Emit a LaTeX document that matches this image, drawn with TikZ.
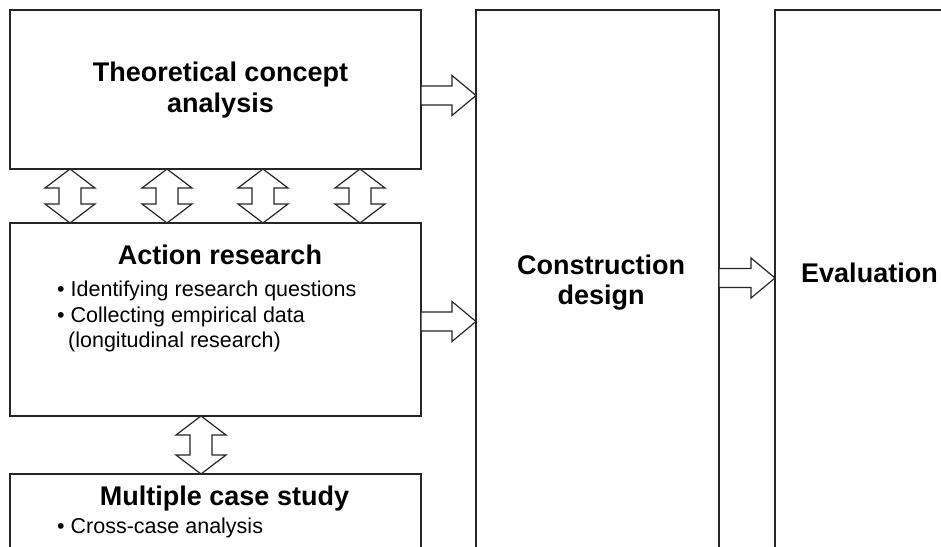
\documentclass[tikz,border=0pt]{standalone}
\usepackage{fontspec}
\setmainfont{Liberation Sans}
\usetikzlibrary{calc}

\tikzset{
  stage/.style={draw=black!85, line width=1.5pt, fill=white, rectangle,
    inner sep=0pt, outer sep=0pt, anchor=north west},
  hollow/.style={draw=black!85, line width=1.2pt, fill=white, line join=miter},
  title/.style={font=\fontsize{27}{32}\selectfont\bfseries, inner sep=0pt, anchor=base},
  item/.style={font=\fontsize{21.5}{25}\selectfont, inner sep=0pt, anchor=base west},
}

% hollow block arrow pointing right, from the east side of #1 to the west side of #2 at height #3
\newcommand\rightflow[3]{%
  \draw[hollow] let \p1=(#1.east), \p2=(#2.west) in
    (\x1,#3pt+9.5pt) -- (\x2-24pt,#3pt+9.5pt) -- (\x2-24pt,#3pt+20pt) -- (\x2,#3pt)
    -- (\x2-24pt,#3pt-20pt) -- (\x2-24pt,#3pt-9.5pt) -- (\x1,#3pt-9.5pt) -- cycle;}

% hollow two-headed vertical arrow between the south side of #1 and the north side of #2 at x = #3
\newcommand\updownflow[3]{%
  \draw[hollow] let \p1=(#1.south), \p2=(#2.north) in
    (#3pt,\y1) -- (#3pt+25pt,\y1-19pt) -- (#3pt+11pt,\y1-19pt) -- (#3pt+11pt,\y2+19pt)
    -- (#3pt+25pt,\y2+19pt) -- (#3pt,\y2) -- (#3pt-25pt,\y2+19pt) -- (#3pt-11pt,\y2+19pt)
    -- (#3pt-11pt,\y1-19pt) -- (#3pt-25pt,\y1-19pt) -- cycle;}

\begin{document}
\begin{tikzpicture}[x=1pt,y=1pt]
  \useasboundingbox (0,0) rectangle (941,546);
  \clip (0,0) rectangle (941,546);
  \fill[white] (0,0) rectangle (941,546);

  % stages
  \node[stage, minimum width=411pt, minimum height=159pt] (theory) at (10,536) {};
  \node[stage, minimum width=411pt, minimum height=193pt] (action) at (10,323) {};
  \node[stage, minimum width=411pt, minimum height=120pt] (multi)  at (10,72)  {};
  \node[stage, minimum width=243pt, minimum height=580pt] (constr) at (476,536) {};
  \node[stage, minimum width=250pt, minimum height=580pt] (eval)   at (775,536) {};

  % labels
  \node[title] (theoryA) at (220.5,464) {Theoretical concept};
  \node[title] (theoryB) at (220.5,433) {analysis};

  \node[title] (actionT) at (220,281) {Action research};
  \node[item]  (actionA) at (57,249) {\textbullet\ Identifying research questions};
  \node[item]  (actionB) at (57,223) {\textbullet\ Collecting empirical data};
  \node[item]  (actionC) at (68,198) {(longitudinal research)};

  \node[title] (multiT) at (224.5,41) {Multiple case study};
  \node[item]  (multiA) at (57,13) {\textbullet\ Cross-case analysis};

  \node[title] (constrA) at (601,271) {Construction};
  \node[title] (constrB) at (601,241) {design};

  \node[title, anchor=base west] (evalT) at (801,263) {Evaluation};

  % flows
  \rightflow{theory}{constr}{450.5}
  \rightflow{action}{constr}{224.5}
  \rightflow{constr}{eval}{268}

  \updownflow{theory}{action}{70}
  \updownflow{theory}{action}{167}
  \updownflow{theory}{action}{263}
  \updownflow{theory}{action}{360}
  \updownflow{action}{multi}{201}
\end{tikzpicture}
\end{document}
